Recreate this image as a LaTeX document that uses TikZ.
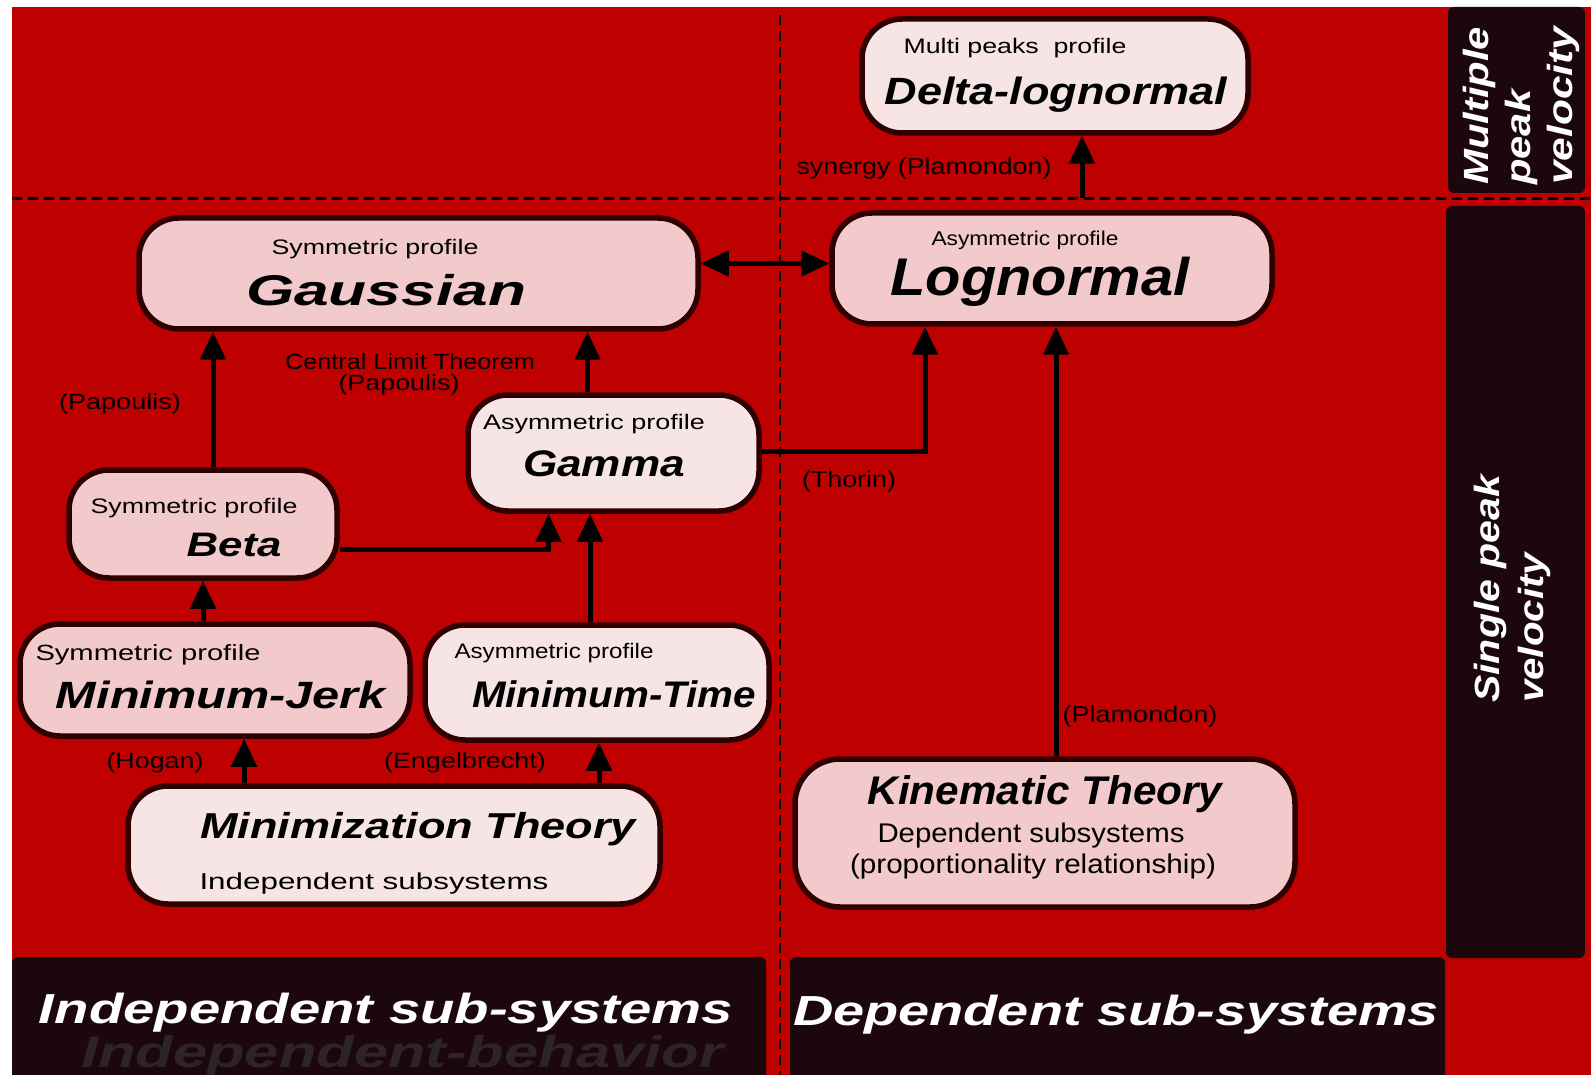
\documentclass[tikz,border=0pt]{standalone}
\usepackage{fontspec}
\usepackage{graphicx}
\setmainfont{Liberation Sans}
\usetikzlibrary{arrows.meta}
\definecolor{bgred}{HTML}{BF0000}
\definecolor{darkbox}{HTML}{1C080C}
\definecolor{boxline}{HTML}{2E0000}
\definecolor{fillA}{HTML}{F2CACB}
\definecolor{fillB}{HTML}{F7E4E4}
\definecolor{behav}{HTML}{2C2429}
\newsavebox\fitbox
\newcommand\ft[3]{\sbox\fitbox{\fontsize{#2pt}{#2pt}\selectfont #3}\pgfmathsetmacro\fitf{#1/\the\wd\fitbox}\scalebox{\fitf}[1]{\usebox\fitbox}}
\newcommand\fb[3]{\ft{#1}{#2}{\bfseries\itshape #3}}
\begin{document}
\begin{tikzpicture}[x=1pt,y=-1pt,
  boxA/.style={draw=boxline, line width=5.5pt, rounded corners=40pt, fill=fillA, inner sep=0pt},
  boxB/.style={boxA, fill=fillB},
  lbl/.style={inner sep=0pt, anchor=base},
  arr/.style={line width=5pt, -{Triangle[length=28pt,width=25pt]}},
  dbl/.style={line width=5pt, {Triangle[length=28pt,width=25pt]}-{Triangle[length=28pt,width=25pt]}},
  sepline/.style={line width=3pt, dash pattern=on 10pt off 6pt},
  bar/.style={fill=darkbox, rounded corners=6pt}
]
\useasboundingbox (0,0) rectangle (1591,1075);
\fill[white] (0,0) rectangle (1591,1075);
\fill[bgred] (12,7) rectangle (1591,1075);

% side and bottom bars
\fill[bar] (1448,7) rectangle (1585,193);
\fill[bar] (1446,206) rectangle (1585,958);
\fill[bar] (12,957) rectangle (766,1085);
\fill[bar] (790,957) rectangle (1445,1085);

% dashed separators
\draw[sepline] (12,199) -- (1591,199);
\draw[sepline, line width=2.8pt] (780,15) -- (780,1075);

% boxes
\node[boxB, minimum width=386pt, minimum height=114pt] (delta) at (1055,76) {};
\node[boxA, minimum width=559pt, minimum height=111pt] (gauss) at (418.5,273.5) {};
\node[boxA, minimum width=440pt, minimum height=111pt] (logn) at (1052,268.5) {};
\node[boxB, minimum width=291pt, minimum height=116pt] (gamma) at (613.5,453) {};
\node[boxA, minimum width=268pt, minimum height=108pt] (beta) at (203,524) {};
\node[boxA, minimum width=390pt, minimum height=112pt] (minjerk) at (215,680) {};
\node[boxB, minimum width=344pt, minimum height=115pt] (mintime) at (597,682.5) {};
\node[boxB, minimum width=532pt, minimum height=118pt] (minim) at (394,845) {};
\node[boxA, minimum width=500pt, minimum height=148pt, rounded corners=45pt] (kin) at (1045,833) {};

% connectors
\draw[dbl] ([yshift=10pt]gauss.east) -- ([yshift=10pt]gauss.east -| logn.west);
\draw[arr] ([xshift=10pt]beta.north) -- ([xshift=10pt]beta.north |- gauss.south);
\draw[arr] ([xshift=-26pt]gamma.north) -- ([xshift=-26pt]gamma.north |- gauss.south);
\draw[arr] ([yshift=-25pt]beta.east) -| ([xshift=-65pt]gamma.south);
\draw[arr] ([xshift=-7pt]mintime.north) -- ([xshift=-7pt]mintime.north |- gamma.south);
\draw[arr] ([xshift=-12pt]minjerk.north) -- ([xshift=-12pt]minjerk.north |- beta.south);
\draw[arr] ([xshift=-150pt]minim.north) -- ([xshift=-150pt]minim.north |- minjerk.south);
\draw[arr] ([xshift=205pt]minim.north) -- ([xshift=205pt]minim.north |- mintime.south);
\draw[arr] ([yshift=2pt]gamma.east) -| ([xshift=-127pt]logn.south);
\draw[arr] ([xshift=11pt]kin.north) -- ([xshift=11pt]kin.north |- logn.south);
\draw[arr] ([xshift=30pt,yshift=12pt]logn.north) -- ([xshift=30pt]logn.north |- delta.south);

% box texts
\node[lbl] (t1) at (1015,54) {\ft{223}{21}{Multi peaks\ \ profile}};
\node[lbl] (t2) at (1056,105) {\fb{343}{38}{Delta-lognormal}};
\node[lbl] (t3) at (375,255) {\ft{207}{21}{Symmetric profile}};
\node[lbl] (t4) at (386,306) {\fb{280}{43}{Gaussian}};
\node[lbl] (t5) at (1025,246) {\ft{187}{20}{Asymmetric profile}};
\node[lbl] (t6) at (1040,296) {\fb{299}{53}{Lognormal}};
\node[lbl] (t7) at (594,429) {\ft{222}{21}{Asymmetric profile}};
\node[lbl] (t8) at (604,476) {\fb{162}{37}{Gamma}};
\node[lbl] (t9) at (194,513) {\ft{207}{21}{Symmetric profile}};
\node[lbl] (t10) at (234,556) {\fb{95}{34}{Beta}};
\node[lbl] (t11) at (148,660) {\ft{225}{22}{Symmetric profile}};
\node[lbl] (t12) at (221,708) {\fb{330}{38}{Minimum-Jerk}};
\node[lbl] (t13) at (554,658) {\ft{199}{21}{Asymmetric profile}};
\node[lbl] (t14) at (614,707) {\fb{284}{37}{Minimum-Time}};
\node[lbl] (t15) at (418,838) {\fb{436}{36}{Minimization Theory}};
\node[lbl] (t16) at (374,889) {\ft{349}{23}{Independent subsystems}};
\node[lbl] (t17) at (1045,804) {\fb{355}{40}{Kinematic Theory}};
\node[lbl] (t18) at (1031,842) {\ft{307}{27}{Dependent subsystems}};
\node[lbl] (t19) at (1033,873) {\ft{366}{27}{(proportionality relationship)}};

% connector labels
\node[lbl] (l1) at (924,175) {\ft{255}{23}{synergy (Plamondon)}};
\node[lbl] (l2) at (410,370) {\ft{250}{22}{Central Limit Theorem}};
\node[lbl] (l3) at (399,391) {\ft{121}{22}{(Papoulis)}};
\node[lbl] (l4) at (120,409) {\ft{122}{22}{(Papoulis)}};
\node[lbl] (l5) at (849,487) {\ft{94}{23}{(Thorin)}};
\node[lbl] (l6) at (1140,722) {\ft{155}{23}{(Plamondon)}};
\node[lbl] (l7) at (155,768) {\ft{97}{22}{(Hogan)}};
\node[lbl] (l8) at (465,768) {\ft{162}{22}{(Engelbrecht)}};

% bar texts
\node[lbl, text=behav] (b0) at (402,1067) {\fb{642}{44}{Independent-behavior}};
\node[lbl, text=white] (b1) at (386,1023) {\fb{694}{42}{Independent sub-systems}};
\node[lbl, text=white] (b2) at (1116,1025) {\fb{646}{42}{Dependent sub-systems}};
\node[lbl, text=white, rotate=90, anchor=base west] (r1) at (1488,185) {\fb{158}{35}{Multiple}};
\node[lbl, text=white, rotate=90, anchor=base west] (r2) at (1530,185) {\fb{95}{35}{peak}};
\node[lbl, text=white, rotate=90, anchor=base west] (r3) at (1572,185) {\fb{158}{35}{velocity}};
\node[lbl, text=white, rotate=90, anchor=base west] (r4) at (1499,703) {\fb{228}{35}{Single peak}};
\node[lbl, text=white, rotate=90, anchor=base west] (r5) at (1543,703) {\fb{150}{35}{velocity}};
\end{tikzpicture}
\end{document}
